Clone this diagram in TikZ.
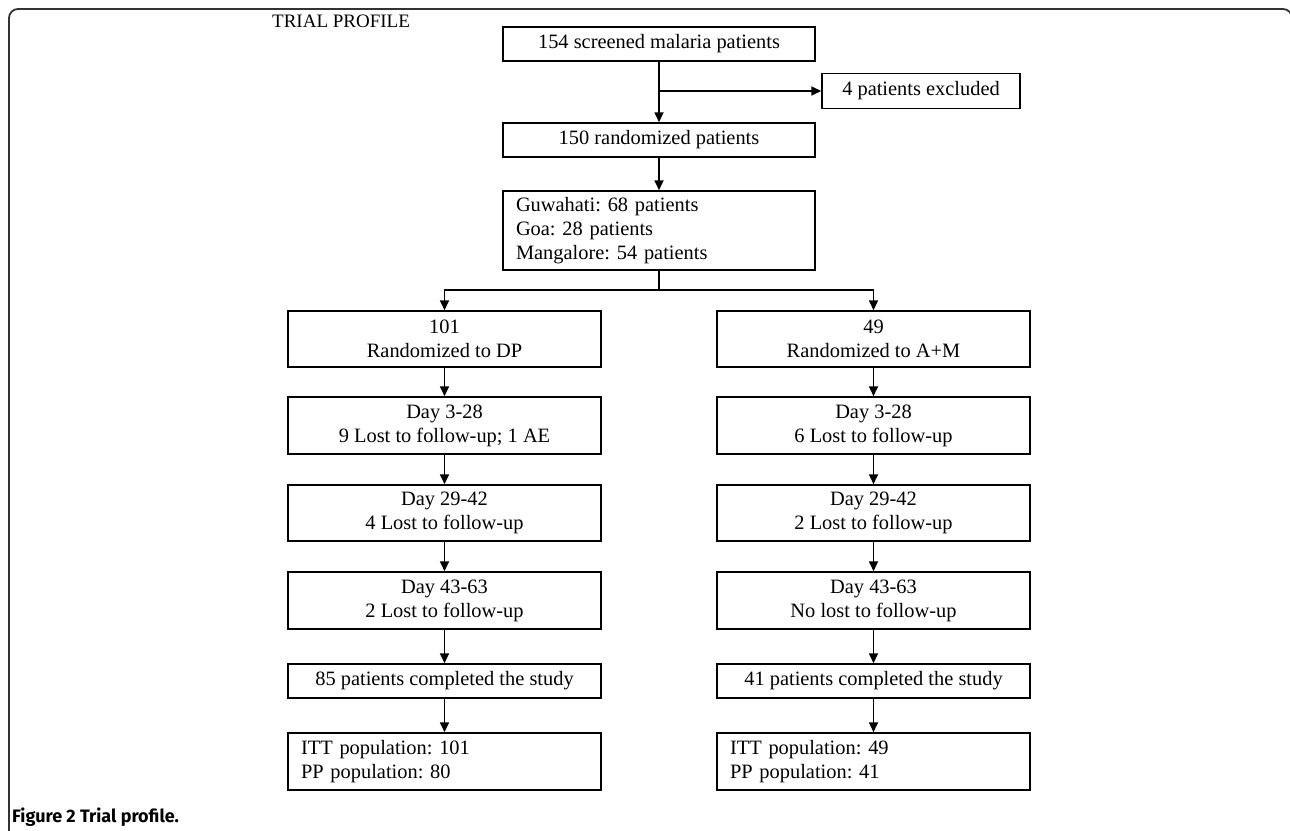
\documentclass[tikz,border=0pt]{standalone}
\usepackage{fontspec}
\setmainfont{Liberation Serif}
\newfontfamily\capfont{Fira Sans}
\usetikzlibrary{arrows.meta}
\begin{document}
\frenchspacing
\begin{tikzpicture}[x=1pt,y=-1pt,
  box/.style={draw=black, line width=1.5pt, inner sep=0pt, align=center,
    font=\fontsize{20.4}{24}\selectfont},
  lbox/.style={draw=black, line width=1.5pt, inner xsep=13pt, inner ysep=0pt, align=left,
    font=\fontsize{20.4}{24}\selectfont},
  conn/.style={line width=1.7pt, draw=black},
  arr/.style={conn, -{Triangle[length=10pt,width=9pt]}}]
\useasboundingbox (0,0) rectangle (1290,830);
\begin{scope}
\clip (0,0) rectangle (1290,830);
\draw[line width=1.8pt, draw=black!80, rounded corners=9pt] (9,845) -- (9,9) -- (1292,9) -- (1292,845);
\end{scope}
\node[anchor=base west, inner sep=0pt, font=\fontsize{19}{22}\selectfont] (title) at (272,27) {TRIAL PROFILE};
\node[anchor=base west, inner sep=0pt, font=\capfont\bfseries\fontsize{18}{21}\selectfont] (cap) at (12,822) {Figure 2 Trial profile.};

\node[box, minimum width=312pt, minimum height=34pt] (scr) at (659,44) {154 screened malaria patients};
\node[box, minimum width=198pt, minimum height=35pt] (exc) at (921,91) {4 patients excluded};
\node[box, minimum width=312pt, minimum height=34pt] (ran) at (659,140) {150 randomized patients};
\node[lbox, text width=286pt, minimum height=79pt] (site) at (659,230.5) {Guwahati: 68 patients\\Goa: 28 patients\\Mangalore: 54 patients};

\node[box, minimum width=313pt, minimum height=56pt] (l1) at (444.5,339) {101\\Randomized to DP};
\node[box, minimum width=313pt, minimum height=57pt] (l2) at (444.5,425.5) {Day 3-28\\9 Lost to follow-up; 1 AE};
\node[box, minimum width=313pt, minimum height=56pt] (l3) at (444.5,513) {Day 29-42\\4 Lost to follow-up};
\node[box, minimum width=313pt, minimum height=57pt] (l4) at (444.5,600.5) {Day 43-63\\2 Lost to follow-up};
\node[box, minimum width=313pt, minimum height=34pt] (l5) at (444.5,681) {85 patients completed the study};
\node[lbox, text width=287pt, minimum height=57pt] (l6) at (444.5,761.5) {ITT population: 101\\PP population: 80};

\node[box, minimum width=313pt, minimum height=56pt] (r1) at (873.5,339) {49\\Randomized to A+M};
\node[box, minimum width=313pt, minimum height=57pt] (r2) at (873.5,425.5) {Day 3-28\\6 Lost to follow-up};
\node[box, minimum width=313pt, minimum height=56pt] (r3) at (873.5,513) {Day 29-42\\2 Lost to follow-up};
\node[box, minimum width=313pt, minimum height=57pt] (r4) at (873.5,600.5) {Day 43-63\\No lost to follow-up};
\node[box, minimum width=313pt, minimum height=34pt] (r5) at (873.5,681) {41 patients completed the study};
\node[lbox, text width=287pt, minimum height=57pt] (r6) at (873.5,761.5) {ITT population: 49\\PP population: 41};

\coordinate (b1) at (659,91);
\coordinate (b2) at (659,290);
\draw[arr] (scr.south) -- (ran.north);
\draw[arr] (b1) -- (exc.west);
\draw[arr] (ran.south) -- (site.north);
\draw[conn] (site.south) -- (b2);
\draw[arr] (b2) -| (l1.north);
\draw[arr] (b2) -| (r1.north);
\draw[arr] (l1) -- (l2);
\draw[arr] (l2) -- (l3);
\draw[arr] (l3) -- (l4);
\draw[arr] (l4) -- (l5);
\draw[arr] (l5) -- (l6);
\draw[arr] (r1) -- (r2);
\draw[arr] (r2) -- (r3);
\draw[arr] (r3) -- (r4);
\draw[arr] (r4) -- (r5);
\draw[arr] (r5) -- (r6);
\end{tikzpicture}
\end{document}
